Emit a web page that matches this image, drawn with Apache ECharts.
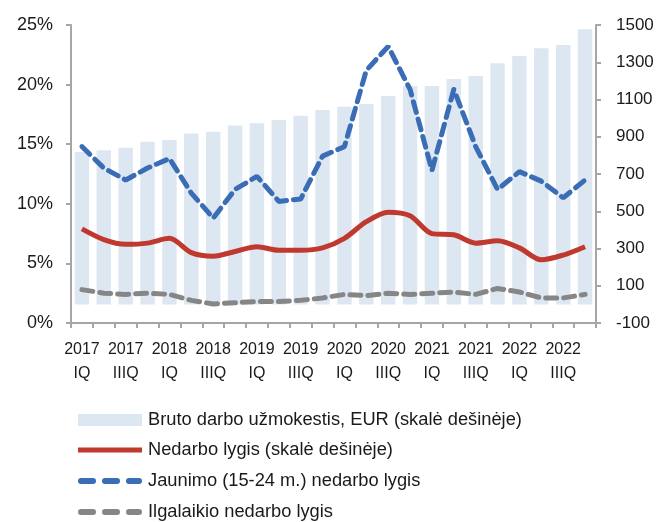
<!DOCTYPE html>
<html>
<head>
<meta charset="utf-8">
<script src="https://cdn.jsdelivr.net/npm/echarts@6/dist/echarts.min.js"></script>
<style>
html,body{margin:0;padding:0;background:#fff;}
#chart{width:658px;height:522px;}
</style>
</head>
<body>
<div id="chart"></div>
<script>
var categories = [
  "2017\nIQ","2017\nIIQ","2017\nIIIQ","2017\nIVQ",
  "2018\nIQ","2018\nIIQ","2018\nIIIQ","2018\nIVQ",
  "2019\nIQ","2019\nIIQ","2019\nIIIQ","2019\nIVQ",
  "2020\nIQ","2020\nIIQ","2020\nIIIQ","2020\nIVQ",
  "2021\nIQ","2021\nIIQ","2021\nIIIQ","2021\nIVQ",
  "2022\nIQ","2022\nIIQ","2022\nIIIQ","2022\nIVQ"
];
var wages = [818, 828, 841, 873, 883, 918, 927, 961, 972, 990, 1013, 1044,
             1061, 1076, 1119, 1172, 1172, 1210, 1226, 1294, 1334, 1375, 1393, 1477];
var unemployment = [7.9, 7.0, 6.6, 6.7, 7.1, 5.9, 5.6, 6.0, 6.4, 6.1, 6.1, 6.3,
                    7.1, 8.5, 9.3, 9.0, 7.5, 7.4, 6.7, 6.9, 6.3, 5.3, 5.7, 6.4];
var youth = [14.8, 13.0, 12.0, 13.0, 13.8, 10.9, 8.8, 11.2, 12.3, 10.2, 10.4, 14.0,
             14.8, 21.2, 23.2, 19.6, 12.8, 19.6, 14.8, 11.2, 12.7, 11.9, 10.5, 12.0];
var longTerm = [2.8, 2.5, 2.4, 2.5, 2.4, 1.9, 1.6, 1.7, 1.8, 1.8, 1.9, 2.1,
                2.4, 2.3, 2.5, 2.4, 2.5, 2.6, 2.4, 2.9, 2.6, 2.1, 2.1, 2.4];
var leftTicks = [0, 5, 10, 15, 20, 25];
var rightTicks = [-100, 100, 300, 500, 700, 900, 1100, 1300, 1500];
var seriesNames = [
  "Bruto darbo užmokestis, EUR (skalė dešinėje)",
  "Nedarbo lygis (skalė dešinėje)",
  "Jaunimo (15-24 m.) nedarbo lygis",
  "Ilgalaikio nedarbo lygis"
];

var FONT = "'Liberation Sans', Arial, sans-serif";
var TEXT = '#1a1a1a';
var BAR_COLOR = '#dde7f1', RED = '#c0392f', BLUE = '#3a6db5', GREY = '#868686';
var dashIcon = 'path://M3,0H15A3,3 0 0 1 15,6H3A3,3 0 0 1 3,0Z' +
               'M27,0H39A3,3 0 0 1 39,6H27A3,3 0 0 1 27,0Z' +
               'M51,0H61A3,3 0 0 1 61,6H51A3,3 0 0 1 51,0Z';

function legendRow(name, top, icon, h) {
  return {
    orient: 'vertical', left: 78, top: top, padding: 0,
    itemWidth: 64, itemHeight: h, itemGap: 0, selectedMode: false,
    textStyle: {fontFamily: FONT, fontSize: 18.3, color: TEXT, padding: [0, 0, 0, 1]},
    data: [{name: name, icon: icon}]
  };
}

var chart = echarts.init(document.getElementById('chart'), null, {renderer: 'canvas'});
var axisLineStyle = {color: '#a6a6a6', width: 2};
chart.setOption({
  animation: false,
  backgroundColor: '#ffffff',
  textStyle: {fontFamily: FONT},
  grid: {left: 71, right: 62, top: 25, bottom: 199, containLabel: false},
  legend: [
    legendRow(seriesNames[0], 411, 'rect', 12),
    legendRow(seriesNames[1], 441, 'rect', 5),
    legendRow(seriesNames[2], 472, dashIcon, 6),
    legendRow(seriesNames[3], 503, dashIcon, 6)
  ],
  xAxis: {
    type: 'category',
    data: categories,
    boundaryGap: true,
    axisLine: {lineStyle: axisLineStyle},
    axisTick: {show: true, interval: 0, length: 5, lineStyle: axisLineStyle},
    axisLabel: {interval: 1, fontFamily: FONT, fontSize: 16, color: TEXT, lineHeight: 24, margin: 15}
  },
  yAxis: [
    {
      type: 'value', min: 0, max: 25, interval: 5, position: 'left',
      axisLine: {show: true, lineStyle: axisLineStyle},
      axisTick: {show: true, length: 5, lineStyle: axisLineStyle},
      splitLine: {show: false},
      axisLabel: {fontFamily: FONT, fontSize: 18, color: TEXT, margin: 18,
        customValues: leftTicks, formatter: function (v) { return v + '%'; }}
    },
    {
      type: 'value', min: -100, max: 1500, position: 'right',
      axisLine: {show: true, lineStyle: axisLineStyle},
      axisTick: {show: true, length: 5, lineStyle: axisLineStyle, customValues: rightTicks},
      splitLine: {show: false},
      axisLabel: {fontFamily: FONT, fontSize: 17, color: TEXT, margin: 20, customValues: rightTicks,
        formatter: function (v) { return String(v); }}
    }
  ],
  series: [
    {
      name: seriesNames[0], type: 'bar', yAxisIndex: 1, data: wages,
      barCategoryGap: '34%',
      itemStyle: {color: BAR_COLOR}
    },
    {
      name: seriesNames[1], type: 'line', yAxisIndex: 0, data: unemployment,
      smooth: 0.3, symbol: 'none',
      lineStyle: {color: RED, width: 5},
      itemStyle: {color: RED}
    },
    {
      name: seriesNames[2], type: 'line', yAxisIndex: 0, data: youth,
      symbol: 'none',
      lineStyle: {color: BLUE, width: 5, type: [11, 7], cap: 'round'},
      itemStyle: {color: BLUE}
    },
    {
      name: seriesNames[3], type: 'line', yAxisIndex: 0, data: longTerm,
      symbol: 'none',
      lineStyle: {color: GREY, width: 5, type: [11, 7], cap: 'round'},
      itemStyle: {color: GREY}
    }
  ]
});
</script>
</body>
</html>
